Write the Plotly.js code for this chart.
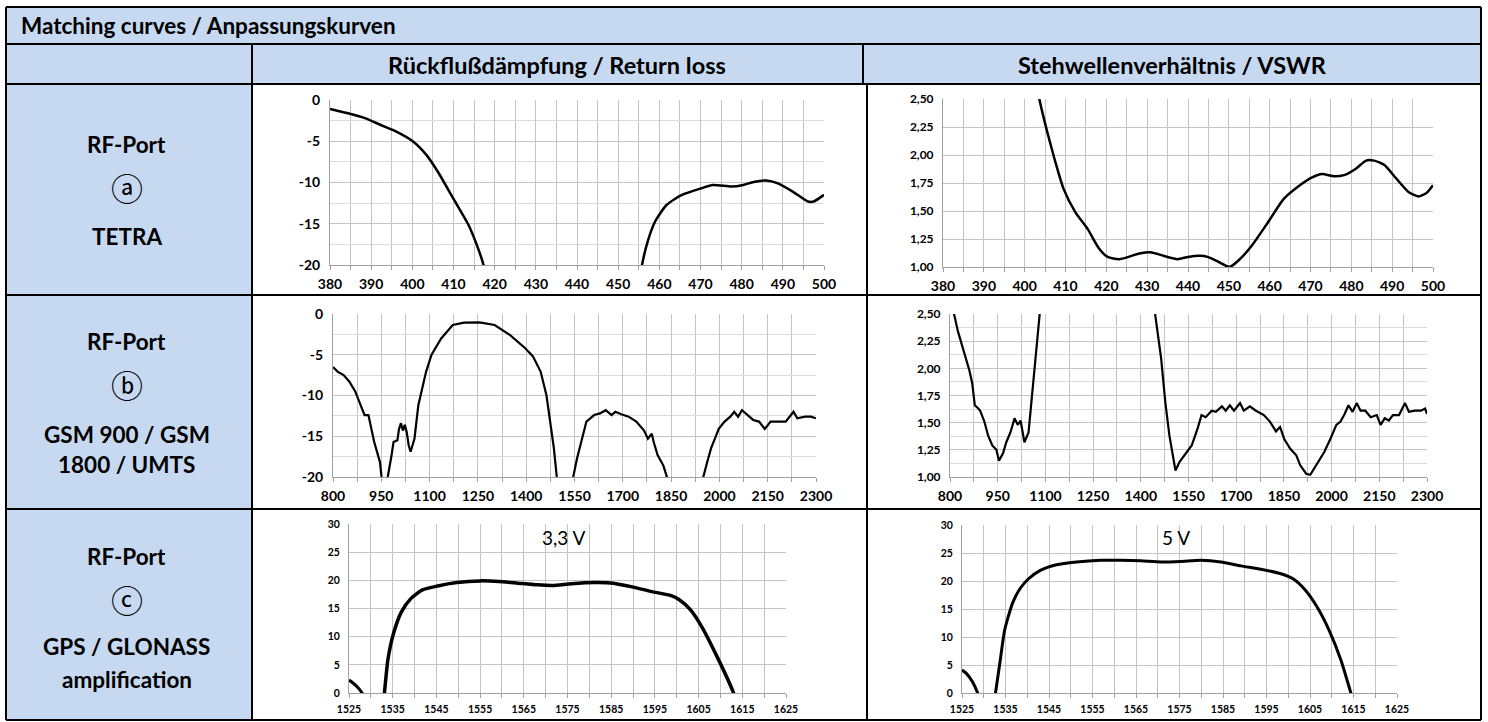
<!DOCTYPE html>
<html><head><meta charset="utf-8">
<script src="https://cdn.plot.ly/plotly-3.0.1.min.js"></script>
<style>html,body{margin:0;padding:0;background:#fff;}#chart{width:1488px;height:722px;}</style>
</head><body><div id="chart"></div>
<script>
// ---------------- DATA ----------------
// Row a: TETRA, Return loss (dB) vs MHz
const tetraRlFreqA = [380, 385.3, 388.5, 392.2, 396, 400.1, 403.4, 406.2, 409.9, 413.6, 415.9, 417.3, 417.9];
const tetraRlA     = [-1.09, -1.73, -2.2, -3.0, -3.8, -5.0, -6.65, -8.7, -11.9, -15.1, -17.9, -20, -21.5];
const tetraRlFreqB = [455.4, 455.8, 457.2, 459, 461.8, 465.5, 470.2, 473, 477.6, 480.4, 483.2, 486, 488.8, 492.4, 496.1, 497.5, 500];
const tetraRlB     = [-21.5, -20, -17.1, -14.7, -12.7, -11.5, -10.7, -10.3, -10.5, -10.3, -9.9, -9.75, -10.1, -11.1, -12.3, -12.3, -11.5];
// Row a: TETRA, VSWR
const tetraVswrFreq = [403.2, 403.6, 405.5, 407.5, 409.5, 412.4, 415.4, 418.3, 420.3, 423.2, 428.1, 431.1, 434, 437.5, 440, 442.9, 444.8, 447.8, 450.2, 452.7, 455.6, 459.6, 463.5, 467.4, 470.4, 472.8, 475.8, 478.2, 481.2, 483.6, 485.6, 488.1, 491, 494, 496.4, 498.4, 500];
const tetraVswr     = [2.6, 2.5, 2.21, 1.94, 1.70, 1.49, 1.34, 1.16, 1.09, 1.07, 1.12, 1.13, 1.10, 1.07, 1.09, 1.10, 1.09, 1.04, 1.00, 1.07, 1.19, 1.40, 1.61, 1.73, 1.80, 1.83, 1.81, 1.82, 1.88, 1.95, 1.95, 1.91, 1.79, 1.67, 1.63, 1.66, 1.73];

// Row b: GSM/UMTS, Return loss
const gsmRlFreqA = [800, 815, 833, 851, 869, 885, 898, 910, 928, 946, 952, 956];
const gsmRlA     = [-6.5, -7.1, -7.5, -8.3, -9.5, -11.0, -12.4, -12.4, -15.7, -18.2, -20, -22];
const gsmRlFreqB = [966, 970, 982, 988, 1000, 1005, 1011, 1017, 1023, 1029, 1035, 1041, 1047, 1053, 1065, 1077, 1089, 1106, 1136, 1172, 1207, 1255, 1302, 1350, 1397, 1421, 1445, 1463, 1475, 1486, 1495, 1498];
const gsmRlB     = [-22, -20, -17.3, -15.7, -15.5, -14.1, -13.4, -14.3, -13.6, -14.5, -16.1, -16.9, -16.1, -15.3, -11.2, -9.1, -7.1, -5.0, -3.0, -1.35, -1.07, -1.02, -1.35, -2.6, -4.2, -5.2, -7.1, -10, -13.6, -16.5, -20, -22];
const gsmRlFreqC = [1543, 1546, 1558, 1570, 1581, 1587, 1599, 1611, 1629, 1647, 1665, 1677, 1695, 1718, 1742, 1766, 1778, 1790, 1796, 1808, 1826, 1837, 1841];
const gsmRlC     = [-22, -20, -17.7, -15.7, -14.1, -13.2, -12.8, -12.4, -12.2, -11.8, -12.4, -12.0, -12.3, -12.6, -13.2, -14.3, -15.3, -14.7, -15.7, -17.3, -18.6, -20, -22];
const gsmRlFreqD = [1946, 1950, 1962, 1974, 1986, 1998, 2016, 2034, 2046, 2058, 2070, 2088, 2105, 2123, 2141, 2159, 2183, 2206, 2230, 2242, 2266, 2284, 2300];
const gsmRlD     = [-22, -20, -18.2, -16.5, -15.3, -14.1, -13.2, -12.6, -12.0, -12.6, -11.8, -12.4, -13.0, -13.2, -14.1, -13.2, -13.2, -13.2, -12.0, -12.8, -12.6, -12.6, -12.8];
// Row b: GSM/UMTS, VSWR
const gsmVswrFreqA = [805, 812.7, 825, 838, 851, 861, 870, 878, 889, 895, 908, 920, 933, 946, 954, 967, 977, 990, 1003, 1013, 1022, 1034, 1047, 1056, 1066, 1075, 1082, 1085];
const gsmVswrA     = [2.65, 2.5, 2.34, 2.21, 2.08, 1.98, 1.86, 1.66, 1.63, 1.61, 1.51, 1.38, 1.29, 1.25, 1.15, 1.22, 1.32, 1.41, 1.54, 1.48, 1.52, 1.32, 1.41, 1.69, 1.97, 2.21, 2.5, 2.65];
const gsmVswrFreqB = [1442, 1445, 1464, 1477, 1490, 1503, 1509, 1522, 1541, 1560, 1579, 1591, 1604, 1623, 1636, 1655, 1667, 1680, 1693, 1712, 1724, 1743, 1762, 1787, 1806, 1825, 1838, 1851, 1870, 1889, 1901, 1920, 1933, 1946, 1958, 1977, 1996, 2015, 2028, 2041, 2053, 2066, 2079, 2091, 2106, 2123, 2142, 2154, 2167, 2180, 2193, 2212, 2231, 2243, 2262, 2281, 2294, 2300];
const gsmVswrB     = [2.65, 2.5, 2.09, 1.69, 1.38, 1.14, 1.06, 1.14, 1.22, 1.29, 1.45, 1.57, 1.55, 1.61, 1.60, 1.65, 1.61, 1.66, 1.61, 1.68, 1.61, 1.65, 1.61, 1.57, 1.51, 1.42, 1.46, 1.35, 1.26, 1.20, 1.11, 1.03, 1.02, 1.08, 1.14, 1.23, 1.35, 1.48, 1.51, 1.58, 1.66, 1.60, 1.68, 1.61, 1.61, 1.55, 1.57, 1.48, 1.54, 1.52, 1.57, 1.57, 1.68, 1.60, 1.61, 1.61, 1.63, 1.58];

// Row c: GPS/GLONASS amplification (dB) at 3,3 V
const gps33FreqA = [1525, 1526.5, 1528, 1528.3];
const gps33A     = [2.3, 1.4, 0, -0.5];
const gps33FreqB = [1533.0, 1533.1, 1533.9, 1535.2, 1537, 1539.2, 1541.8, 1545.3, 1549.7, 1554.9, 1559.3, 1563.7, 1568.1, 1571.6, 1575.9, 1581.2, 1585.5, 1590, 1594.3, 1598.7, 1600.5, 1603.1, 1605.7, 1609.2, 1613, 1613.2];
const gps33B     = [-0.5, 0, 5.9, 10.6, 14.4, 16.8, 18.3, 19.0, 19.6, 19.9, 19.8, 19.5, 19.2, 19.1, 19.4, 19.6, 19.5, 18.8, 18.0, 17.3, 16.6, 14.8, 11.8, 6.5, 0, -0.5];
// Row c: GPS/GLONASS amplification at 5 V
const gps5FreqA = [1525, 1526, 1527.4, 1528.6, 1528.8];
const gps5A     = [4.1, 3.5, 2.0, 0, -0.5];
const gps5FreqB = [1532.6, 1532.7, 1533.8, 1534.8, 1536.6, 1538.4, 1540.3, 1543, 1546.7, 1551.3, 1556.9, 1561.5, 1566.1, 1570.7, 1575.3, 1579.9, 1584.5, 1589.1, 1593.7, 1598.3, 1601.1, 1603.9, 1606.6, 1609.4, 1612.1, 1614.4, 1614.6];
const gps5B     = [-0.5, 0, 5.9, 11.2, 16.0, 18.7, 20.4, 21.9, 22.9, 23.4, 23.7, 23.7, 23.6, 23.4, 23.5, 23.7, 23.4, 22.7, 22.1, 21.3, 20.4, 18.4, 15.4, 11.2, 5.9, 0, -0.5];

// Tick labels
const rlTickVals = [0, -5, -10, -15, -20];
const rlTickText = ["0", "-5", "-10", "-15", "-20"];

// Texts
const mainTitle = "Matching curves / Anpassungskurven";
const colTitles = ["Rückflußdämpfung / Return loss", "Stehwellenverhältnis / VSWR"];
const rowPort = ["RF-Port", "RF-Port", "RF-Port"];
const rowMarks = ["ⓐ", "ⓑ", "ⓒ"];
const rowNames = [["TETRA"], ["GSM 900 / GSM", "1800 / UMTS"], ["GPS / GLONASS", "amplification"]];
const voltLabels = ["3,3 V", "5 V"];

// ---------------- LAYOUT ----------------
const W = 1488, H = 722;
const px = v => v / W;
const py = v => 1 - v / H;
const FONT = "Lato, 'Open Sans', sans-serif";
const majorGrid = "#c4c4c4", minorGrid = "#dcdcdc";

function xAxis(x0, x1, anchor, range, dtick, minorDtick, fsize) {
  return {
    domain: [px(x0), px(x1)], anchor: anchor, range: range,
    tickmode: "linear", tick0: range[0], dtick: dtick,
    showgrid: true, gridcolor: majorGrid, gridwidth: 1,
    minor: minorDtick ? {tickmode: "linear", tick0: range[0], dtick: minorDtick, showgrid: true, gridcolor: majorGrid, gridwidth: 1, ticks: "outside", ticklen: 4, tickcolor: "#a0a0a0"} : undefined,
    showline: true, linecolor: "#a0a0a0", linewidth: 1,
    ticks: "outside", ticklen: 4, tickcolor: "#a0a0a0",
    zeroline: false, fixedrange: true,
    tickfont: {family: FONT, size: fsize, color: "#000", weight: 700},
    ticklabelstandoff: 2
  };
}
function yAxis(y0, y1, anchor, range, opts, fsize) {
  const a = {
    domain: [py(y1), py(y0)], anchor: anchor, range: range,
    showgrid: true, gridcolor: majorGrid, gridwidth: 1,
    showline: true, linecolor: "#a0a0a0", linewidth: 1,
    ticks: "", zeroline: false, fixedrange: true,
    tickfont: {family: FONT, size: fsize, color: "#000", weight: 700},
    ticklabelstandoff: 6
  };
  return Object.assign(a, opts);
}

const rlY = {tickmode: "array", tickvals: rlTickVals, ticktext: rlTickText,
  minor: {tickmode: "linear", tick0: 0, dtick: 2.5, showgrid: true, gridcolor: minorGrid}};

const layout = {
  width: W, height: H, margin: {l: 0, r: 0, t: 0, b: 0},
  paper_bgcolor: "#ffffff", plot_bgcolor: "rgba(0,0,0,0)",
  showlegend: false, separators: ",.",
  font: {family: FONT, color: "#000"},
  xaxis:  xAxis(330, 824, "y", [380, 500], 10, 5, 14),
  yaxis:  yAxis(100, 265, "x", [-20, 0], rlY, 14),
  xaxis2: xAxis(943, 1433, "y2", [380, 500], 10, 5, 14),
  yaxis2: yAxis(99, 267, "x2", [1, 2.5], {tickmode: "linear", tick0: 1, dtick: 0.25, tickformat: ".2f"}, 12),
  xaxis3: xAxis(333, 816, "y3", [800, 2300], 150, 75, 14),
  yaxis3: yAxis(314, 477, "x3", [-20, 0], rlY, 14),
  xaxis4: xAxis(950, 1427, "y4", [800, 2300], 150, 75, 14),
  yaxis4: yAxis(314, 477, "x4", [1, 2.5], {tickmode: "linear", tick0: 1, dtick: 0.25, tickformat: ".2f",
          minor: {tickmode: "linear", tick0: 1, dtick: 0.125, showgrid: true, gridcolor: minorGrid}}, 12),
  xaxis5: xAxis(349, 786, "y5", [1525, 1625], 10, 5, 10.5),
  yaxis5: yAxis(524, 693, "x5", [0, 30], {tickmode: "linear", tick0: 0, dtick: 5}, 10.5),
  xaxis6: xAxis(962, 1397, "y6", [1525, 1625], 10, 5, 10.5),
  yaxis6: yAxis(525, 693, "x6", [0, 30], {tickmode: "linear", tick0: 0, dtick: 5}, 10.5),
  shapes: [], annotations: []
};

// table backgrounds
const blue = "#c6d9f0";
const rect = (x0, y0, x1, y1, fill) => ({type: "rect", xref: "paper", yref: "paper", layer: "below",
  x0: px(x0), x1: px(x1), y0: py(y1), y1: py(y0), line: {width: 0}, fillcolor: fill});
const line = (x0, y0, x1, y1) => ({type: "line", xref: "paper", yref: "paper", layer: "above",
  x0: px(x0), x1: px(x1), y0: py(y0), y1: py(y1), line: {color: "#000", width: 2}});
layout.shapes.push(rect(6, 7, 1481, 84, blue));
layout.shapes.push(rect(6, 84, 252, 720, blue));
[[6, 7, 1481, 7], [6, 44, 1481, 44], [6, 84, 1481, 84], [6, 295, 1481, 295], [6, 509, 1481, 509], [6, 720, 1481, 720],
 [6, 7, 6, 720], [1481, 7, 1481, 720], [252, 44, 252, 720], [863, 44, 863, 84], [867, 84, 867, 720]]
  .forEach(l => layout.shapes.push(line(...l)));

const ann = (text, x, y, size, opts) => Object.assign({xref: "paper", yref: "paper", x: px(x), y: py(y),
  xanchor: "center", yanchor: "middle",
  text: text, showarrow: false, font: {family: FONT, size: size, color: "#000", weight: 700}}, opts || {});
layout.annotations.push(ann(mainTitle, 19, 26, 22.5, {xanchor: "left"}));
layout.annotations.push(ann(colTitles[0], 557, 65, 23.5));
layout.annotations.push(ann(colTitles[1], 1172, 65, 23.5));
const portY = [145, 342, 556], markY = [187, 384, 599];
const nameY = [[237], [434, 465], [646, 679]];
for (let i = 0; i < 3; i++) {
  layout.annotations.push(ann(rowPort[i], 127, portY[i], 22.5));
  layout.annotations.push(ann(rowMarks[i], 127, markY[i], 32, {font: {family: "'Noto Sans CJK JP', 'DejaVu Sans'", size: 32, color: "#000", weight: 400}}));
  rowNames[i].forEach((t, j) => layout.annotations.push(ann(t, 127, nameY[i][j], 22.5)));
}
layout.annotations.push(ann(voltLabels[0], 564, 537, 19, {font: {family: FONT, size: 19, color: "#000", weight: 400}}));
layout.annotations.push(ann(voltLabels[1], 1176, 537, 19, {font: {family: FONT, size: 19, color: "#000", weight: 400}}));

// traces
const tr = (x, y, xa, ya, w) => ({type: "scatter", mode: "lines", x: x, y: y, xaxis: xa, yaxis: ya,
  line: {color: "#000", width: w, shape: "spline", smoothing: 0.6}, hoverinfo: "skip"});
const data = [
  tr(tetraRlFreqA, tetraRlA, "x", "y", 2.5),
  tr(tetraRlFreqB, tetraRlB, "x", "y", 2.5),
  tr(tetraVswrFreq, tetraVswr, "x2", "y2", 2.5),
  tr(gsmRlFreqA, gsmRlA, "x3", "y3", 2.2),
  tr(gsmRlFreqB, gsmRlB, "x3", "y3", 2.2),
  tr(gsmRlFreqC, gsmRlC, "x3", "y3", 2.2),
  tr(gsmRlFreqD, gsmRlD, "x3", "y3", 2.2),
  tr(gsmVswrFreqA, gsmVswrA, "x4", "y4", 2.2),
  tr(gsmVswrFreqB, gsmVswrB, "x4", "y4", 2.2),
  tr(gps33FreqA, gps33A, "x5", "y5", 3),
  tr(gps33FreqB, gps33B, "x5", "y5", 3.5),
  tr(gps5FreqA, gps5A, "x6", "y6", 3),
  tr(gps5FreqB, gps5B, "x6", "y6", 3)
];
data.forEach(d => { if (d.xaxis === "x3" || d.xaxis === "x4") d.line.shape = "linear"; });

Plotly.newPlot("chart", data, layout, {displayModeBar: false, staticPlot: true});
</script>
</body></html>
